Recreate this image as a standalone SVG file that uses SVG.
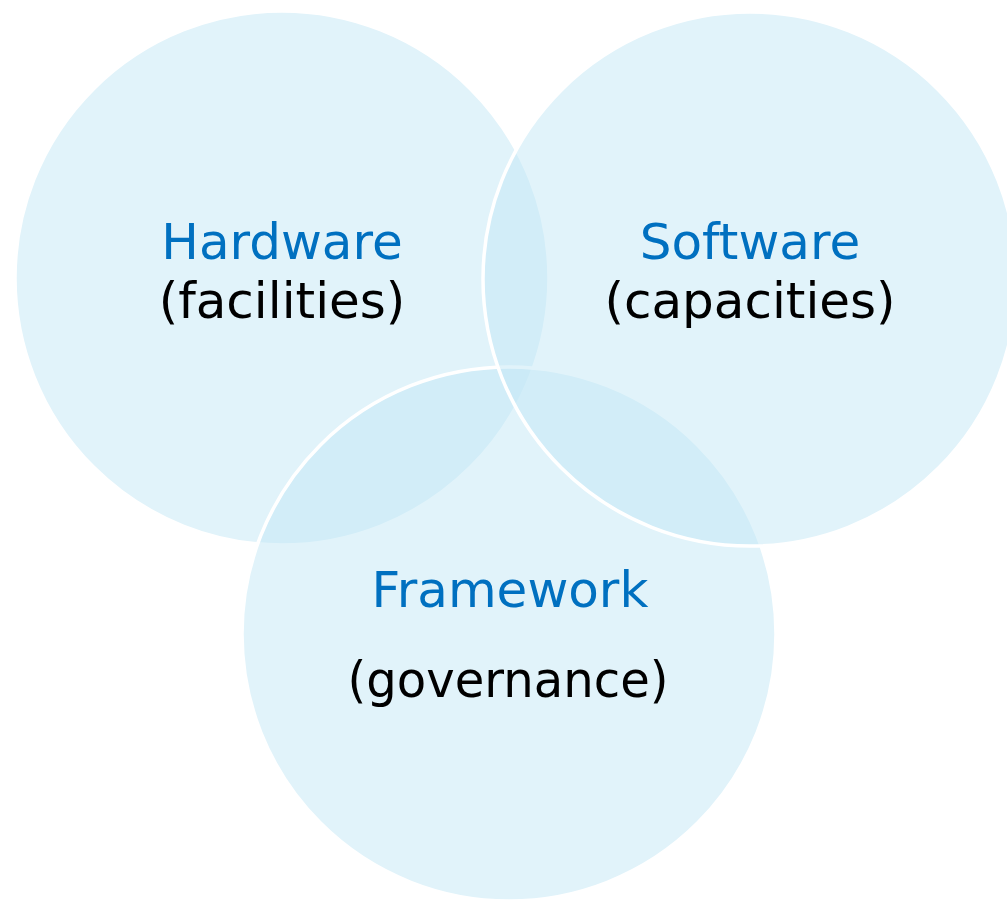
<svg xmlns="http://www.w3.org/2000/svg" width="1007" height="900" viewBox="0 0 1007 900">
<style>
.c{fill:#C3E7F6;fill-opacity:0.5;stroke:#FFFFFF;stroke-width:3.5}
.t{font-family:"DejaVu Sans",sans-serif;font-size:50px;text-anchor:middle}
.h{fill:#0070C0}
.s{fill:#000000}
</style>
<rect width="1007" height="900" fill="#FFFFFF"/>
<g id="hardware">
<circle class="c" cx="282" cy="278" r="267"/>
</g>
<g id="framework">
<circle class="c" cx="509" cy="634" r="267"/>
</g>
<g id="software">
<circle class="c" cx="750" cy="279" r="267"/>
</g>
<g id="labels">
<text class="t h" x="282" y="259">Hardware</text>
<text class="t s" x="282" y="318">(facilities)</text>
<text class="t h" x="750" y="259">Software</text>
<text class="t s" x="750" y="318">(capacities)</text>
<text class="t h" x="510" y="607">Framework</text>
<text class="t s" x="508" y="697" textLength="321" lengthAdjust="spacingAndGlyphs">(governance)</text>
</g>
<g id="connectors"></g>
</svg>
